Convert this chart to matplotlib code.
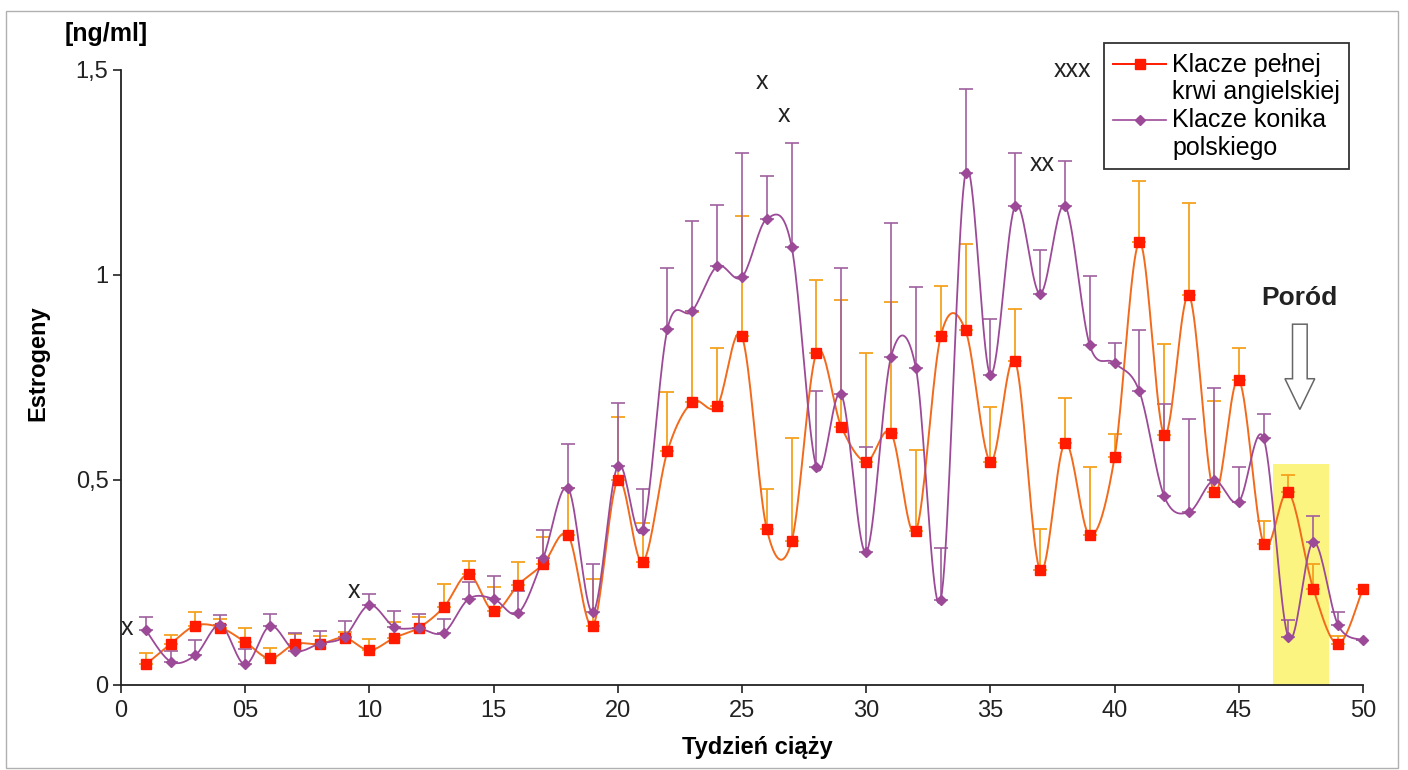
import numpy as np
import matplotlib
matplotlib.use("Agg")
from matplotlib import pyplot as plt
from matplotlib.patches import Rectangle, FancyArrow
from matplotlib.legend_handler import HandlerLine2D

plt.rcParams['font.family'] = ['Liberation Sans', 'DejaVu Sans']

weeks = list(range(1, 51))

# Klacze pelnej krwi angielskiej
tb_mean = [0.05, 0.10, 0.145, 0.14, 0.105, 0.065, 0.10, 0.10, 0.115, 0.085,
           0.115, 0.14, 0.19, 0.27, 0.18, 0.245, 0.295, 0.365, 0.145, 0.50,
           0.30, 0.57, 0.69, 0.68, 0.85, 0.38, 0.35, 0.81, 0.63, 0.545,
           0.615, 0.375, 0.85, 0.865, 0.545, 0.79, 0.28, 0.59, 0.365, 0.555,
           1.08, 0.61, 0.95, 0.47, 0.745, 0.345, 0.47, 0.235, 0.10, 0.235]
tb_sd = [0.027, 0.022, 0.034, 0.02, 0.033, 0.025, 0.025, 0.02, 0.015, 0.026,
         0.038, 0.026, 0.056, 0.033, 0.06, 0.056, 0.065, 0.115, 0.113, 0.153,
         0.094, 0.145, 0.22, 0.142, 0.295, 0.097, 0.253, 0.178, 0.309, 0.265,
         0.319, 0.198, 0.124, 0.21, 0.133, 0.127, 0.101, 0.11, 0.167, 0.057,
         0.149, 0.222, 0.225, 0.223, 0.078, 0.055, 0.042, 0.06, 0.02, 0.0]

# Klacze konika polskiego
kp_mean = [0.134, 0.057, 0.073, 0.146, 0.05, 0.144, 0.084, 0.101, 0.118, 0.195,
           0.142, 0.138, 0.128, 0.21, 0.21, 0.176, 0.31, 0.48, 0.177, 0.535,
           0.378, 0.868, 0.912, 1.021, 0.995, 1.137, 1.069, 0.531, 0.709, 0.324,
           0.80, 0.774, 0.207, 1.249, 0.757, 1.169, 0.954, 1.169, 0.829, 0.785,
           0.716, 0.46, 0.422, 0.499, 0.447, 0.602, 0.116, 0.349, 0.146, 0.109]
kp_sd = [0.033, 0.026, 0.037, 0.025, 0.037, 0.028, 0.044, 0.031, 0.038, 0.027,
         0.039, 0.034, 0.032, 0.04, 0.056, 0.054, 0.068, 0.108, 0.118, 0.154,
         0.099, 0.148, 0.22, 0.15, 0.303, 0.104, 0.253, 0.186, 0.308, 0.256,
         0.327, 0.196, 0.128, 0.205, 0.136, 0.128, 0.107, 0.109, 0.169, 0.049,
         0.151, 0.226, 0.227, 0.226, 0.085, 0.059, 0.042, 0.062, 0.031, 0.0]

x_ticks = [0, 5, 10, 15, 20, 25, 30, 35, 40, 45, 50]
x_tick_labels = ['0', '05', '10', '15', '20', '25', '30', '35', '40', '45', '50']
y_ticks = [0, 0.5, 1, 1.5]
y_tick_labels = ['0', '0,5', '1', '1,5']

# significance marks: (week, level, text)
marks = [(0.25, 0.14, 'x'), (9.4, 0.23, 'x'), (25.8, 1.47, 'x'),
         (26.7, 1.39, 'x'), (37.1, 1.27, 'xx'), (38.3, 1.50, 'xxx')]

labour_span = (46.36, 48.64)
labour_top = 0.54


def smooth(x, y, n=20):
    # bezier smoothing like excel's smoothed line
    x = np.asarray(x, float)
    y = np.asarray(y, float)
    px = np.concatenate([[x[0]], x, [x[-1]]])
    py = np.concatenate([[y[0]], y, [y[-1]]])
    xs, ys = [], []
    t = np.linspace(0, 1, n, endpoint=False)
    for i in range(1, len(px) - 2):
        p0, p1, p2, p3 = (np.array([px[j], py[j]]) for j in range(i - 1, i + 3))
        c1 = p1 + (p2 - p0) / 6
        c2 = p2 - (p3 - p1) / 6
        b = (np.outer((1 - t) ** 3, p1) + np.outer(3 * (1 - t) ** 2 * t, c1)
             + np.outer(3 * (1 - t) * t ** 2, c2) + np.outer(t ** 3, p2))
        xs.extend(b[:, 0])
        ys.extend(b[:, 1])
    xs.append(x[-1])
    ys.append(y[-1])
    return xs, ys


class FirstLineHandler(HandlerLine2D):
    # put the legend line next to the first line of a two-line label
    def create_artists(self, legend, orig_handle, xdescent, ydescent,
                       width, height, fontsize, trans):
        return super().create_artists(legend, orig_handle, xdescent,
                                      ydescent - 1.2 * fontsize, width, height,
                                      fontsize, trans)


fig = plt.figure(figsize=(14.08, 7.70), dpi=100)
ax = fig.add_axes([0.0859, 0.1104, 0.8821, 0.7987])

ax.add_patch(Rectangle((labour_span[0], 0), labour_span[1] - labour_span[0], labour_top,
                       color='#fbf36a', alpha=0.85, lw=0, zorder=0))

red_line = '#f26a1b'
red_mark = '#ff1a00'
purple = '#9c4a98'

eb = ax.errorbar(weeks, tb_mean, yerr=[np.zeros(len(tb_sd)), tb_sd], fmt='none',
                 ecolor='#f5a21e', elinewidth=1.3, capsize=5, capthick=1.3, zorder=2)
for cap in eb[1]:
    cap.set_color('#f03a10')
ax.errorbar(weeks, kp_mean, yerr=[np.zeros(len(kp_sd)), kp_sd], fmt='none',
            ecolor='#a0609e', elinewidth=1.2, capsize=5, capthick=1.2, zorder=2)

sx, sy = smooth(weeks, tb_mean)
ax.plot(sx, sy, color=red_line, lw=1.4, zorder=3, clip_on=False)
ax.plot(weeks, tb_mean, ls='none', marker='s', ms=7, color=red_mark, zorder=4, clip_on=False)
sx, sy = smooth(weeks, kp_mean)
ax.plot(sx, sy, color=purple, lw=1.3, zorder=3, clip_on=False)
ax.plot(weeks, kp_mean, ls='none', marker='D', ms=5.5, color=purple, zorder=4, clip_on=False)

for wx, wy, txt in marks:
    ax.text(wx, wy, txt, ha='center', va='center', fontsize=18, color='#222222')

# arrow for labour
ax.add_patch(FancyArrow(47.46, 0.88, 0, -0.208, width=0.59, head_width=1.2,
                        head_length=0.075, length_includes_head=True,
                        facecolor='white', edgecolor='#666666', lw=1.1, zorder=5))
ax.text(47.46, 0.945, 'Poród', ha='center', va='center', fontsize=19,
        fontweight='bold', color='#222222')

ax.set_xlim(0, 50)
ax.set_ylim(0, 1.5)
ax.set_xticks(x_ticks)
ax.set_xticklabels(x_tick_labels)
ax.set_yticks(y_ticks)
ax.set_yticklabels(y_tick_labels)
ax.tick_params(labelsize=17, length=6, width=1.2, colors='#222222', pad=3)
ax.tick_params(axis='x', pad=5)
for s in ['top', 'right']:
    ax.spines[s].set_visible(False)
for s in ['left', 'bottom']:
    ax.spines[s].set_linewidth(1.3)
    ax.spines[s].set_color('#222222')

ax.set_xlabel('Tydzień ciąży', fontsize=17, fontweight='bold')
ax.xaxis.set_label_coords(0.512, -0.083)
ax.set_ylabel('Estrogeny', fontsize=17, fontweight='bold')
ax.yaxis.set_label_coords(-0.058, 0.524)
fig.text(0.046, 0.956, '[ng/ml]', fontsize=18, fontweight='bold', ha='left', va='center')

h1, = ax.plot([], [], color=red_mark, marker='s', ms=7, lw=1.4)
h2, = ax.plot([], [], color=purple, marker='D', ms=5, lw=1.2)
leg = fig.legend([h1, h2], ['Klacze pełnej\nkrwi angielskiej', 'Klacze konika\npolskiego'],
                 loc='upper left', bbox_to_anchor=(0.784, 0.944), fontsize=18,
                 frameon=True, fancybox=False, edgecolor='black', handlelength=2.1,
                 borderpad=0.38, labelspacing=0.15, handletextpad=0.25, borderaxespad=0,
                 handler_map={h1: FirstLineHandler(), h2: FirstLineHandler()})
leg.get_frame().set_linewidth(1.3)

fig.patches.append(Rectangle((0.004, 0.002), 0.989, 0.984, transform=fig.transFigure,
                             fill=False, edgecolor='#b0b0b0', lw=1.0))

fig.savefig('out.png', dpi=100)
